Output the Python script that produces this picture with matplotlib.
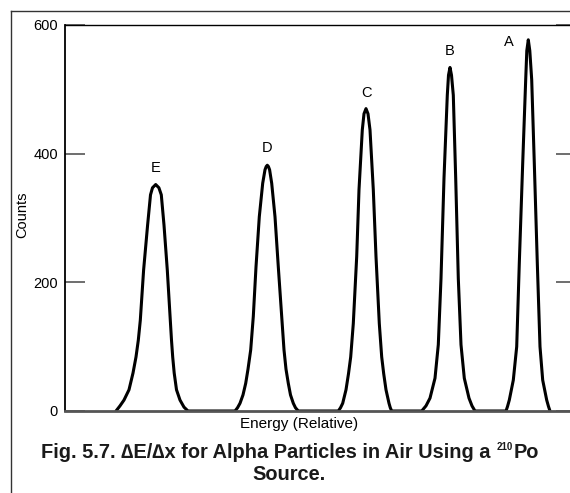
import matplotlib
matplotlib.use("Agg")
import matplotlib.pyplot as plt
from matplotlib.lines import Line2D

plt.rcParams['font.family'] = ['Liberation Sans', 'DejaVu Sans']

e_energy = [51, 55, 59, 64, 68, 71, 73.3, 75.3, 78.6, 82.6, 85.5, 87.5, 90.7,
            93.9, 96.3, 99, 102.3, 105.3, 106.5, 107.7, 109.2, 111.5, 115, 119, 123]
e_counts = [0, 8, 17, 33, 59, 84, 110, 141, 219, 289, 336, 347, 352,
            347, 336, 289, 219, 141, 110, 84, 59, 33, 17, 6, 0]
d_energy = [170, 172.5, 175, 178, 180.7, 183, 185.7, 188.3, 191, 194.3, 197.7, 200, 201.2, 202.3,
            203.4, 204.6, 206.7, 210, 213.3, 216.7, 219, 221, 223.3, 225.5, 228.3, 230.5, 233.3]
d_counts = [0, 5, 12, 25, 43, 65, 95, 147, 224, 302, 354, 375, 380, 382,
            380, 375, 354, 302, 224, 147, 95, 65, 43, 25, 12, 5, 0]
c_energy = [273.3, 275.5, 277.7, 281, 283.5, 285.7, 288.3, 291.7, 294, 297.3, 299, 301,
            303, 305, 308.3, 311, 314.3, 316.7, 318.7, 321, 324, 325.3, 326.7]
c_counts = [0, 5, 12, 33, 58, 84, 136, 240, 344, 437, 462, 470,
            462, 437, 344, 240, 136, 84, 58, 33, 12, 5, 0]
b_energy = [356.7, 361, 365, 370, 373.3, 376, 379, 382.3, 383.5, 385,
            386.5, 388.3, 390.7, 393.3, 396, 399.3, 404, 407, 410]
b_counts = [0, 8, 20, 51, 103, 206, 362, 491, 522, 534,
            522, 491, 362, 206, 103, 51, 20, 8, 0]
a_energy = [441, 442.5, 444.3, 448.3, 451.7, 454.3, 457.7, 460.7, 461.8, 463.3,
            464.8, 466.7, 469.3, 472.3, 475, 477.7, 481.7, 483.5, 485]
a_counts = [0, 7, 17, 48, 100, 230, 385, 515, 560, 577,
            560, 515, 385, 230, 100, 48, 17, 7, 0]

peak_names = ['E', 'D', 'C', 'B', 'A']
peak_energy = [e_energy, d_energy, c_energy, b_energy, a_energy]
peak_counts = [e_counts, d_counts, c_counts, b_counts, a_counts]

y_ticks = [0, 200, 400, 600]

fig = plt.figure(figsize=(5.7, 4.93), dpi=100)
W, H = 570.0, 493.0
ax = fig.add_axes([65 / W, 82 / H, (576 - 65) / W, 386 / H])

energy = sum(peak_energy, [])
counts = sum(peak_counts, [])
ax.plot(energy, counts, color='black', lw=2.2, solid_joinstyle='round', solid_capstyle='round')

# peak labels
offsets = [(0, 17), (0, 17), (0, 16), (0, 16), (-19, -2)]
for name, xs, ys, off in zip(peak_names, peak_energy, peak_counts, offsets):
    i = ys.index(max(ys))
    ax.annotate(name, (xs[i], ys[i]), xytext=off, textcoords='offset pixels',
                ha='center', va='center', fontsize=10.5)

ax.set_xlim(0, 511)
ax.set_ylim(0, 600)
ax.set_xticks([])
ax.set_yticks(y_ticks)
ax.set_yticklabels([str(v) for v in y_ticks])
ax.tick_params(axis='y', direction='in', length=14.4, width=1.2, color='#555555',
               right=True, labelsize=10.5, pad=5)
ax.spines['left'].set_linewidth(1.3)
ax.spines['top'].set_linewidth(1.0)
ax.spines['bottom'].set_color('#555555')
ax.spines['bottom'].set_linewidth(2.0)

fig.text(22 / W, 1 - 215 / H, 'Counts', rotation=90, ha='center', va='center', fontsize=10.5)
fig.text(299 / W, 1 - 424 / H, 'Energy (Relative)', ha='center', va='center', fontsize=11)

# caption, first line built from pieces so the 210 can be a small superscript
cap_kw = dict(fontweight='bold', color='#1a1a1a')
renderer = fig.canvas.get_renderer()
base_y = 1 - 458 / H
t1 = fig.text(0, base_y, 'Fig. 5.7. \u2206E/\u2206x for Alpha Particles in Air Using a ',
              fontsize=14.4, va='baseline', **cap_kw)
t2 = fig.text(0, base_y + 7.5 / H, '210', fontsize=7, va='baseline', **cap_kw)
t3 = fig.text(0, base_y, 'Po', fontsize=14.4, va='baseline', **cap_kw)
widths = [t.get_window_extent(renderer).width for t in (t1, t2, t3)]
x0 = 289.5 - sum(widths) / 2
t1.set_x(x0 / W)
t2.set_x((x0 + widths[0]) / W)
t3.set_x((x0 + widths[0] + widths[1] + 1) / W)
fig.text(289.5 / W, 1 - 480 / H, 'Source.', ha='center', va='baseline', fontsize=14.4, **cap_kw)

# outer frame (left and top edges visible)
fig.add_artist(Line2D([11 / W, 11 / W], [0, 1 - 11 / H], color='#333333', lw=1.0, transform=fig.transFigure))
fig.add_artist(Line2D([11 / W, 1], [1 - 11 / H, 1 - 11 / H], color='#333333', lw=1.0, transform=fig.transFigure))

fig.savefig('out.png', dpi=100)
